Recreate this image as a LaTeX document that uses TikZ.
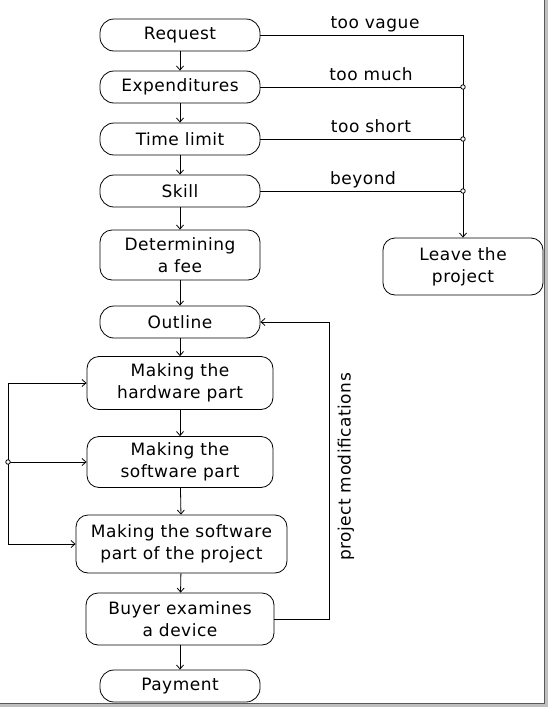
\documentclass[tikz,border=0pt]{standalone}
\usepackage{fontspec}
\setmainfont[LetterSpace=3]{DejaVu Sans}
\usepackage{tikz}
\usetikzlibrary{arrows.meta, positioning, calc}

\tikzset{
  box/.style={draw, rounded corners=12pt, align=center, inner sep=0pt,
    minimum width=160pt, font=\fontsize{17}{22}\selectfont},
  pill/.style={box, rounded corners=14pt, minimum height=32pt},
  arr/.style={-{Straight Barb[length=4pt, width=7pt]}},
  lbl/.style={font=\fontsize{17}{20}\selectfont, inner sep=0pt},
  joint/.style={draw, fill=white, circle, inner sep=0pt, minimum size=4.5pt}
}

\begin{document}
\begin{tikzpicture}[x=1pt, y=-1pt, line width=0.8pt]
  \useasboundingbox (0,0) rectangle (548,707);
  % ================================================================
  % main column
  % ================================================================
  \node[pill] (req) at (180,35) {Request};
  \node[pill] (exp) at (180,87) {Expenditures};
  \node[pill] (time) at (180,139) {Time limit};
  \node[pill] (skill) at (180,191) {Skill};
  \node[box, minimum height=50pt] (fee) at (180,255) {Determining\\a fee};
  \node[pill] (out) at (180,322) {Outline};
  \node[box, minimum width=186pt, minimum height=53pt] (hw) at (180,383) {Making the\\hardware part};
  \node[box, minimum width=186pt, minimum height=51pt] (sw) at (180,462) {Making the\\software part};
  \node[box, minimum width=211pt, minimum height=58pt] (swp) at (181.5,544) {Making the software\\part of the project};
  \node[box, minimum width=188pt, minimum height=52pt] (buy) at (180,619) {Buyer examines\\a device};
  \node[pill] (pay) at (180,686) {Payment};
  \node[box, minimum height=57pt] (leave) at (463,266.5) {Leave the\\project};
  % downward flow ---------------------------------------------------
  \foreach \a/\b in {req/exp, exp/time, time/skill, skill/fee, fee/out, out/hw, hw/sw, sw/swp, swp/buy, buy/pay}
    \draw[arr] (\a) -- (\b);
  % rejection branch -------------------------------------------------
  \draw[arr] (req.east) -| (leave.north);
  \foreach \n in {exp, time, skill} {
    \draw (\n.east) -- (\n.east -| leave.north);
    \node[joint] at (\n.east -| leave.north) {};
  }
  \node[lbl, anchor=base] (vague) at (375,28) {too vague};
  \node[lbl, anchor=base] (much) at (371,80) {too much};
  \node[lbl, anchor=base] (short) at (371,132) {too short};
  \node[lbl, anchor=base] (beyond) at (363,184) {beyond};
  % left loop -------------------------------------------------------
  \coordinate (lt) at (8,383);
  \coordinate (lm) at (8,462);
  \coordinate (lb) at (8,544);
  \draw (lt) -- (lb);
  \draw[arr] (lt) -- (hw.west);
  \draw[arr] (lm) -- (sw.west);
  \draw[arr] (lb) -- (swp.west);
  \node[joint] at (lm) {};
  % feedback --------------------------------------------------------
  \coordinate (fb) at (329,619);
  \draw[arr] (buy.east) -- (fb) |- (out.east);
  \node[lbl, rotate=90] (mods) at (346,467) {project modifications};
  % frame -----------------------------------------------------------
  \draw[black!25, line width=2.5pt] (546.5,0) |- (0,705.5);
  \draw[black!65, line width=1.2pt] (544.5,0) |- (0,703.5);
\end{tikzpicture}
\end{document}
